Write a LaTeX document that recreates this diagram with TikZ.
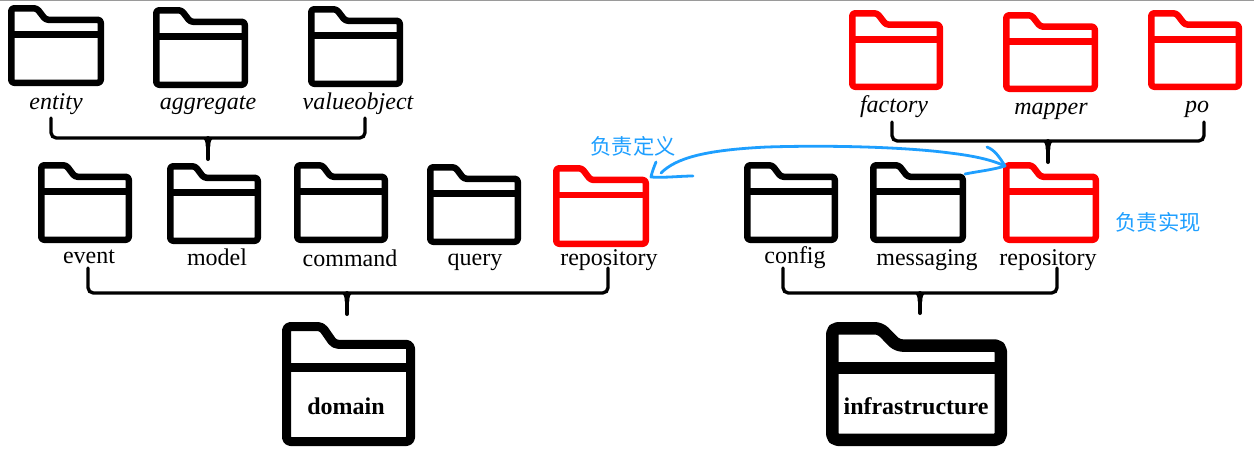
\documentclass[tikz,border=0pt]{standalone}
\usepackage{fontspec}
\setmainfont{Liberation Serif}
\newfontfamily\cjk{Noto Sans CJK SC}
\definecolor{hand}{HTML}{1E9FFF}
\definecolor{topline}{HTML}{9A9A9A}
\newcommand{\fld}[7]{% name, outer x0,y0,x1,y1, lw(px), colour
  \pgfmathsetmacro{\flax}{#2+#6/2}\pgfmathsetmacro{\flay}{#3+#6/2}
  \pgfmathsetmacro{\flbx}{#4-#6/2}\pgfmathsetmacro{\flby}{#5-#6/2}
  \pgfmathsetmacro{\flw}{\flbx-\flax}\pgfmathsetmacro{\flh}{\flby-\flay}
  \pgfmathsetmacro{\flta}{\flax+0.285*\flw}\pgfmathsetmacro{\fltb}{\flax+0.385*\flw}
  \pgfmathsetmacro{\flny}{\flay+0.155*\flh}\pgfmathsetmacro{\fldy}{\flay+0.355*\flh}
  \pgfmathsetmacro{\fllw}{#6*0.75}
  \pgfmathsetmacro{\flr}{#6*0.33}
  \pgfmathsetmacro{\flmw}{\flw*0.75}\pgfmathsetmacro{\flmh}{\flh*0.75}
  \node[folderbox,minimum width=\flmw pt,minimum height=\flmh pt] (#1) at ({(\flax+\flbx)/2},{(\flay+\flby)/2}) {};
  \draw[#7,line width=\fllw pt,line join=round,rounded corners=\flr pt]
    (\flax,\flay) -- (\flta,\flay) -- (\fltb,\flny) -- (\flbx,\flny) -- (\flbx,\flby) -- (\flax,\flby) -- cycle;
  \draw[#7,line width=\fllw pt] (\flax,\fldy) -- (\flbx,\fldy);
}
\newcommand{\brk}[6]{% name, xl, xr, ytop, ymid, stem x
  \coordinate (#1l) at (#2,#4);
  \coordinate (#1r) at (#3,#4);
  \draw[bracketline,rounded corners=4pt] (#1l) -- (#2,#5) -- (#3,#5) -- (#1r);
  \coordinate (#1s) at (#6,#5);
  \fill[black] (#6-6,#5) .. controls (#6-3,#5+1) and (#6-2.2,#5+4) .. (#6-2.2,#5+9) -- (#6+2.2,#5+9) .. controls (#6+2.2,#5+4) and (#6+3,#5+1) .. (#6+6,#5) -- cycle;
}
\tikzset{
  folderbox/.style={inner sep=0pt,outer sep=0pt,draw=none,fill=none},
  bracketline/.style={black,line width=2.5pt,line cap=round},
  stemline/.style={black,line width=3pt,line cap=round},
  lab/.style={font=\fontsize{18}{20}\selectfont,inner sep=0pt,text=black,anchor=base},
  ilab/.style={lab,font=\fontsize{18}{20}\selectfont\itshape},
  blab/.style={lab,font=\fontsize{18}{20}\selectfont\bfseries},
  cjklab/.style={font=\fontsize{16}{18}\selectfont\cjk,text=hand,inner sep=0pt},
  handline/.style={hand,line width=2.1pt,line cap=round,line join=round},
}
\begin{document}
\begin{tikzpicture}[x=0.75pt,y=-0.75pt]
\useasboundingbox (0,0) rectangle (1254,451);
\fill[white] (0,0) rectangle (1254,451);
\draw[topline,line width=1pt] (0,0.5) -- (1254,0.5);
% top-left
\fld{fentity}{8}{5}{104}{86}{6.5}{black}
\fld{faggregate}{153}{7}{248}{88}{6.5}{black}
\fld{fvalue}{308}{6}{403}{87}{6.5}{black}
% top-right
\fld{ffactory}{849}{10}{943}{90}{6.5}{red}
\fld{fmapper}{1003}{12}{1098}{92}{6.5}{red}
\fld{fpo}{1148}{10}{1242}{90}{6.5}{red}
% middle row
\fld{fevent}{38}{162}{132}{243}{6.5}{black}
\fld{fmodel}{167}{163}{261}{244}{6.5}{black}
\fld{fcommand}{294}{162}{388}{243}{6.5}{black}
\fld{fquery}{427}{164}{521}{245}{6.5}{black}
\fld{frepoa}{553}{165}{649}{247}{6.5}{red}
\fld{fconfig}{744}{162}{838}{243}{6.5}{black}
\fld{fmsg}{870}{162}{966}{243}{6.5}{black}
\fld{frepob}{1003}{162}{1099}{243}{6.5}{red}
% bottom
\fld{fdomain}{282}{322}{415}{446}{9}{black}
\fld{finfra}{826}{322}{1007}{446}{12.5}{black}
% labels
\node[ilab] (tentity) at (56,109) {entity};
\node[ilab] (taggregate) at (208,109) {aggregate};
\node[ilab] (tvalue) at (358,109) {valueobject};
\node[ilab] (tfactory) at (894,112) {factory};
\node[ilab] (tmapper) at (1051,114) {mapper};
\node[ilab] (tpo) at (1197,112) {po};
\node[lab] (tevent) at (89,263) {event};
\node[lab] (tmodel) at (217,265) {model};
\node[lab] (tcommand) at (350,266) {command};
\node[lab] (tquery) at (475,265) {query};
\node[lab] (trepoa) at (609,265) {repository};
\node[lab] (tconfig) at (795,263) {config};
\node[lab] (tmsg) at (927,265) {messaging};
\node[lab] (trepob) at (1048,265) {repository};
\node[blab] (tdomain) at (346,414) {domain};
\node[blab] (tinfra) at (916,414) {infrastructure};
\node[cjklab] (tdef) at (633,146) {负责定义};
\node[cjklab] (timpl) at (1158,222) {负责实现};
% brackets
\brk{ba}{51}{365}{118}{138}{208}
\draw[stemline] (bas) -- (208,159);
\brk{bb}{892}{1204}{122}{141}{1048}
\draw[stemline] (bbs) -- (1048,162);
\brk{bc}{88}{608}{268}{293}{347}
\draw[stemline] (bcs) -- (347,314);
\brk{bd}{783}{1057}{268}{293}{920}
\draw[stemline] (bds) -- (920,313);
% hand-drawn arrow
\coordinate (ca) at (661,173);
\coordinate (cb) at (1005,166);
\draw[handline] (ca) .. controls (676,158) and (705,150) .. (767,147)
   .. controls (830,145) and (905,147) .. (950,153)
   .. controls (975,156) and (992,160) .. (cb);
\draw[handline] (987,147) .. controls (995,150) and (1000,158) .. (cb);
\draw[handline] (965,174) .. controls (980,171) and (992,170) .. (cb);
\draw[handline] (656,162) .. controls (654,167) and (652,172) .. (651,177) .. controls (665,178) and (680,176) .. (693,176);
\end{tikzpicture}
\end{document}
